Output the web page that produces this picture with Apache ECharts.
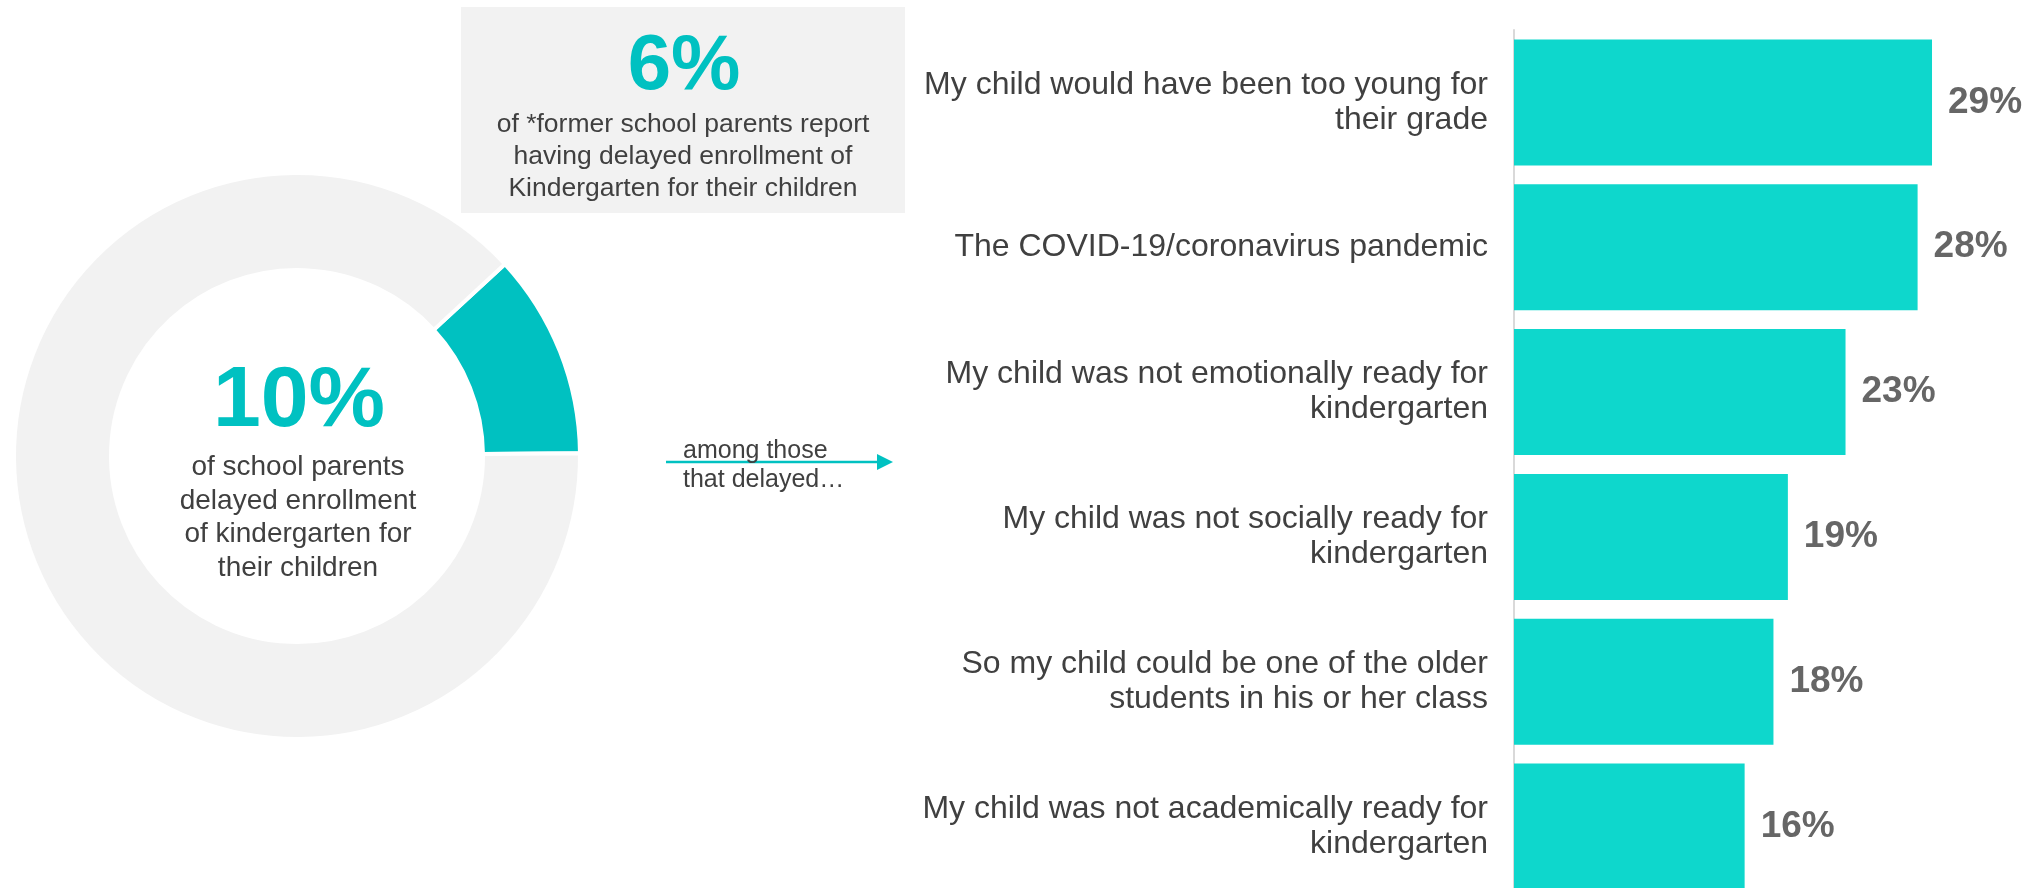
<!DOCTYPE html>
<html>
<head>
<meta charset="utf-8">
<script src="https://cdn.jsdelivr.net/npm/echarts@6.0.0/dist/echarts.min.js"></script>
<style>
  html, body { margin: 0; padding: 0; background: #fff; }
  #main { width: 2041px; height: 888px; }
</style>
</head>
<body>
<div id="main"></div>
<script>
// reasons among parents who delayed kindergarten (top = first)
var reasons = [
  "My child would have been too young for\ntheir grade",
  "The COVID-19/coronavirus pandemic",
  "My child was not emotionally ready for\nkindergarten",
  "My child was not socially ready for\nkindergarten",
  "So my child could be one of the older\nstudents in his or her class",
  "My child was not academically ready for\nkindergarten"
];
var reasonShares = [29, 28, 23, 19, 18, 16];

// donut slices as drawn
var donutNames = ["Delayed", "Did not delay"];
var donutValues = [11.7, 88.3];

// headline figures
var schoolHeadline = "10%";
var schoolText = "of school parents\ndelayed enrollment\nof kindergarten for\ntheir children";
var formerHeadline = "6%";
var formerText = "of *former school parents report\nhaving delayed enrollment of\nKindergarten for their children";
var arrowText = "among those\nthat delayed\u2026";

var FONT = "Liberation Sans, Arial, sans-serif";
var TEAL = "#00C1C1";
var BAR = "#0ED7CC";
var GREY = "#F2F2F2";
var DARK = "#404040";

var chart = echarts.init(document.getElementById("main"));

var option = {
  animation: false,
  backgroundColor: "#fff",
  grid: {
    left: 1514,
    top: 30,
    width: 504.5,
    height: 869,
    outerBoundsMode: "none"
  },
  xAxis: {
    type: "value",
    min: 0,
    max: 35,
    show: false
  },
  yAxis: {
    type: "category",
    data: reasons,
    inverse: true,
    axisLine: { show: true, lineStyle: { color: "#d9d9d9", width: 2 } },
    axisTick: { show: false },
    axisLabel: {
      fontFamily: FONT,
      fontSize: 32,
      lineHeight: 35,
      color: DARK,
      margin: 26,
      align: "right",
      padding: [3, 0, 0, 0]
    }
  },
  series: [
    {
      type: "bar",
      data: reasonShares,
      barCategoryGap: "13%",
      itemStyle: { color: BAR },
      silent: true,
      label: {
        show: true,
        position: "right",
        distance: 16,
        formatter: "{c}%",
        fontFamily: FONT,
        fontSize: 37,
        fontWeight: "bold",
        color: "#666666"
      }
    },
    {
      type: "pie",
      center: [297, 456],
      radius: [186, 283],
      startAngle: 42.7,
      silent: true,
      label: { show: false },
      labelLine: { show: false },
      itemStyle: { borderColor: "#fff", borderWidth: 4 },
      data: donutNames.map(function (n, i) {
        return { name: n, value: donutValues[i], itemStyle: { color: i === 0 ? TEAL : GREY } };
      })
    }
  ],
  graphic: [
    {
      type: "rect",
      shape: { x: 461, y: 7, width: 444, height: 206 },
      style: { fill: GREY },
      silent: true,
      z: -1
    },
    {
      type: "text",
      x: 684,
      y: 67,
      style: {
        text: formerHeadline,
        fontFamily: FONT,
        fontSize: 78,
        fontWeight: "bold",
        fill: TEAL,
        align: "center",
        verticalAlign: "middle"
      }
    },
    {
      type: "text",
      x: 683,
      y: 157,
      style: {
        text: formerText,
        fontFamily: FONT,
        fontSize: 26.5,
        lineHeight: 32,
        fill: DARK,
        align: "center",
        verticalAlign: "middle"
      }
    },
    {
      type: "text",
      x: 299,
      y: 402,
      style: {
        text: schoolHeadline,
        fontFamily: FONT,
        fontSize: 86,
        fontWeight: "bold",
        fill: TEAL,
        align: "center",
        verticalAlign: "middle"
      }
    },
    {
      type: "text",
      x: 298,
      y: 518,
      style: {
        text: schoolText,
        fontFamily: FONT,
        fontSize: 28,
        lineHeight: 33.5,
        fill: DARK,
        align: "center",
        verticalAlign: "middle"
      }
    },
    {
      type: "line",
      shape: { x1: 666, y1: 462, x2: 880, y2: 462 },
      style: { stroke: TEAL, lineWidth: 2.5 }
    },
    {
      type: "polygon",
      shape: { points: [[877, 454], [893, 462], [877, 470]] },
      style: { fill: TEAL }
    },
    {
      type: "text",
      x: 683,
      y: 466,
      style: {
        text: arrowText,
        fontFamily: FONT,
        fontSize: 25,
        lineHeight: 29,
        fill: DARK,
        align: "left",
        verticalAlign: "middle"
      }
    }
  ]
};

chart.setOption(option);
</script>
</body>
</html>
